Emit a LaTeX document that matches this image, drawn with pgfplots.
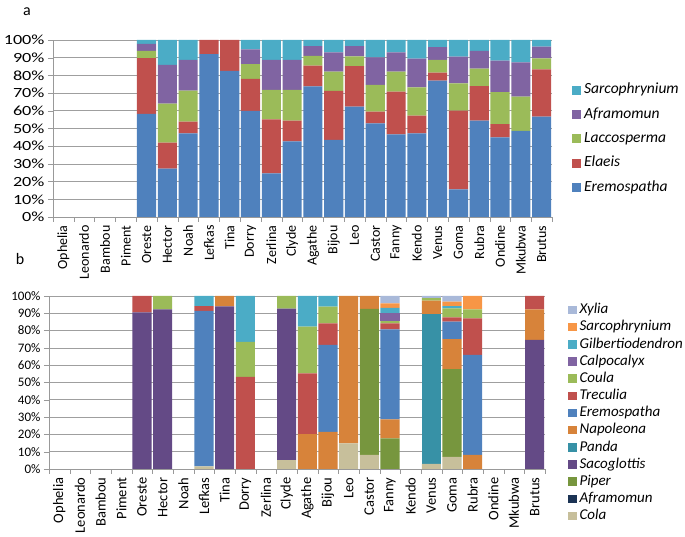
\documentclass[border=0pt]{standalone}
\usepackage{fontspec}
\setmainfont{Carlito}
\newfontfamily\ytickA[FakeStretch=1.3]{Carlito}
\usepackage{pgfplots}
\usepackage{pgfplotstable}
\pgfplotsset{compat=1.18}

\definecolor{cEremo}{HTML}{4F81BD}
\definecolor{cElaeis}{HTML}{C0504D}
\definecolor{cLacco}{HTML}{9BBB59}
\definecolor{cAfram}{HTML}{8064A2}
\definecolor{cSarco}{HTML}{4BACC6}
\definecolor{cXylia}{HTML}{A9B9D9}
\definecolor{cSarcoB}{HTML}{F79646}
\definecolor{cNapo}{HTML}{D7833A}
\definecolor{cPanda}{HTML}{3791A6}
\definecolor{cSaco}{HTML}{644A86}
\definecolor{cPiper}{HTML}{77963E}
\definecolor{cAframB}{HTML}{1B3354}
\definecolor{cCola}{HTML}{C7BF9B}

% panel a: share per genus
\pgfplotstableread{
x  Erem  Elae  Lacc  Afra  Sarc
0  0     0     0     0     0
1  0     0     0     0     0
2  0     0     0     0     0
3  0     0     0     0     0
4  58.2  31.6  4.1   3.9   2.2
5  27.3  14.7  22    22    14
6  47.3  6.6   17.5  17.3  11.3
7  92    8     0     0     0
8  82.5  17.5  0     0     0
9  60    18    8.4   8.3   5.3
10 24.7  30.5  16.6  16.9  11.3
11 42.7  11.7  17.4  16.9  11.3
12 73.8  11.7  5.5   5.6   3.4
13 43.5  27.7  10.9  10.9  7
14 62.3  22.9  5.6   5.8   3.4
15 52.9  6.6   15.1  15.6  9.8
16 46.7  24.1  11.3  10.9  7
17 47.3  10    16    16.2  10.5
18 77    4.5   7.2   7.2   4.1
19 15.6  44.5  15.4  15.1  9.4
20 54.4  19.6  9.8   10    6.2
21 45    7.5   18.1  17.7  11.7
22 48.6  0     19.4  19.4  12.6
23 56.7  26.7  6.2   6.6   3.8
}\tabA

% panel b
\pgfplotstableread{
x  Cola Afra Pipe Saco Pand Napo Erem Trec Coul Calp Gilb Sarc Xyli
0  0    0    0    0    0    0    0    0    0    0    0    0    0
1  0    0    0    0    0    0    0    0    0    0    0    0    0
2  0    0    0    0    0    0    0    0    0    0    0    0    0
3  0    0    0    0    0    0    0    0    0    0    0    0    0
4  0    0    0    90.6 0    0    0    9.4  0    0    0    0    0
5  0    0    0    92.3 0    0    0    0    7.7  0    0    0    0
6  0    0    0    0    0    0    0    0    0    0    0    0    0
7  1.5  0    0    0    0    0    89.9 2.8  0    0    5.8  0    0
8  0    0    0    94   0    6    0    0    0    0    0    0    0
9  0    0    0    0    0    0    0    53.2 20.3 0    26.5 0    0
10 0    0    0    0    0    0    0    0    0    0    0    0    0
11 5.2  0    0    87.5 0    0    0    0    7.3  0    0    0    0
12 0    0    0    0    0    20.2 0    35.1 27   0    17.7 0    0
13 0    0    0    0    0    21.4 50.3 12.5 9.6  0    6.2  0    0
14 14.8 0    0    0    0    85.2 0    0    0    0    0    0    0
15 8.1  0    84.4 0    0    7.5  0    0    0    0    0    0    0
16 0    0    17.7 0    0    11   52   3.5  1.3  4.6  3    2.7  4.2
17 0    0    0    0    0    0    0    0    0    0    0    0    0
18 2.9  0    0    0    86.7 7.7  0    0    1.4  0    0    0    1.3
19 7    0    50.8 0    0    17.3 10.1 2.5  5.2  0    1.3  2.5  3.3
20 0    0    0    0    0    8.1  57.8 21.2 5.2  0    0    7.7  0
21 0    0    0    0    0    0    0    0    0    0    0    0    0
22 0    0    0    0    0    0    0    0    0    0    0    0    0
23 0    0    0    74.6 0    17.7 0    7.7  0    0    0    0    0
}\tabB

\pgfplotsset{
  panel/.style={
    scale only axis,
    ybar stacked,
    bar width=0.92,
    ymin=0, ymax=100,
    xmin=-0.5, xmax=23.5,
    axis x line*=bottom,
    axis y line*=left,
    axis line style={draw=gray!80, -},
    ymajorgrids,
    grid style={gray!75, line width=0.6pt},
    tick align=outside,
    tick style={gray!80},
    major tick length=5pt,
    minor tick length=5pt,
    ytick={0,10,...,100},
    yticklabels={0\%,10\%,20\%,30\%,40\%,50\%,60\%,70\%,80\%,90\%,100\%},
    xtick={0,...,23},
    xticklabels={Ophelia,Leonardo,Bambou,Piment,Oreste,Hector,Noah,Lefkas,Tina,Dorry,Zerlina,Clyde,Agathe,Bijou,Leo,Castor,Fanny,Kendo,Venus,Goma,Rubra,Ondine,Mkubwa,Brutus},
    every major x tick/.append style={draw=none},
    minor xtick={-0.5,0.5,...,23.5},
    x tick label style={rotate=90, anchor=east},
    area legend,
    legend image code/.code={\fill[##1] (0pt,-4.5pt) rectangle (9pt,4.5pt);},
    reverse legend,
    legend cell align=left,
  },
}

\begin{document}
\begin{tikzpicture}
\useasboundingbox (0,0) rectangle (685pt,537pt);

\node[font=\fontsize{16}{18}\selectfont] at (27pt,525pt) {a};
\node[font=\fontsize{16}{18}\selectfont] at (20pt,278pt) {b};

\begin{axis}[
  panel,
  at={(53pt,320pt)}, anchor=south west,
  width=499pt, height=177pt,
  y tick label style={font=\ytickA\fontsize{14}{16}\selectfont},
  x tick label style={font=\fontsize{14}{16}\selectfont},
  legend style={draw=none, fill=none, at={(1.040,0.4415)}, anchor=west,
    inner sep=0pt, row sep=9.9pt, column sep=3pt,
    font=\itshape\fontsize{15.5}{17}\selectfont,
    nodes={inner sep=0pt, text height=11pt, text depth=3.5pt}},
]
\addplot[fill=cEremo, draw=none] table[x=x, y=Erem] {\tabA};
\addplot[fill=cElaeis, draw=none] table[x=x, y=Elae] {\tabA};
\addplot[fill=cLacco, draw=none] table[x=x, y=Lacc] {\tabA};
\addplot[fill=cAfram, draw=none] table[x=x, y=Afra] {\tabA};
\addplot[fill=cSarco, draw=none] table[x=x, y=Sarc] {\tabA};
\legend{Eremospatha,Elaeis,Laccosperma,Aframomun,Sarcophrynium}
\end{axis}

\begin{axis}[
  panel,
  at={(49pt,68pt)}, anchor=south west,
  width=496pt, height=173pt,
  y tick label style={font=\fontsize{13}{15}\selectfont},
  x tick label style={font=\fontsize{14.5}{16}\selectfont},
  legend style={draw=none, fill=none, at={(1.0464,0.3237)}, anchor=west,
    inner sep=0pt, row sep=2.67pt, column sep=3pt,
    font=\itshape\fontsize{15}{17}\selectfont,
    nodes={inner sep=0pt, text height=11pt, text depth=3.5pt}},
  legend image code/.code={\fill[#1] (0pt,-4.2pt) rectangle (8.4pt,4.2pt);},
]
\addplot[fill=cCola, draw=none] table[x=x, y=Cola] {\tabB};
\addplot[fill=cAframB, draw=none] table[x=x, y=Afra] {\tabB};
\addplot[fill=cPiper, draw=none] table[x=x, y=Pipe] {\tabB};
\addplot[fill=cSaco, draw=none] table[x=x, y=Saco] {\tabB};
\addplot[fill=cPanda, draw=none] table[x=x, y=Pand] {\tabB};
\addplot[fill=cNapo, draw=none] table[x=x, y=Napo] {\tabB};
\addplot[fill=cEremo, draw=none] table[x=x, y=Erem] {\tabB};
\addplot[fill=cElaeis, draw=none] table[x=x, y=Trec] {\tabB};
\addplot[fill=cLacco, draw=none] table[x=x, y=Coul] {\tabB};
\addplot[fill=cAfram, draw=none] table[x=x, y=Calp] {\tabB};
\addplot[fill=cSarco, draw=none] table[x=x, y=Gilb] {\tabB};
\addplot[fill=cSarcoB, draw=none] table[x=x, y=Sarc] {\tabB};
\addplot[fill=cXylia, draw=none] table[x=x, y=Xyli] {\tabB};
\legend{Cola,Aframomun,Piper,Sacoglottis,Panda,Napoleona,Eremospatha,Treculia,Coula,Calpocalyx,Gilbertiodendron,Sarcophrynium,Xylia}
\end{axis}
\end{tikzpicture}
\end{document}
